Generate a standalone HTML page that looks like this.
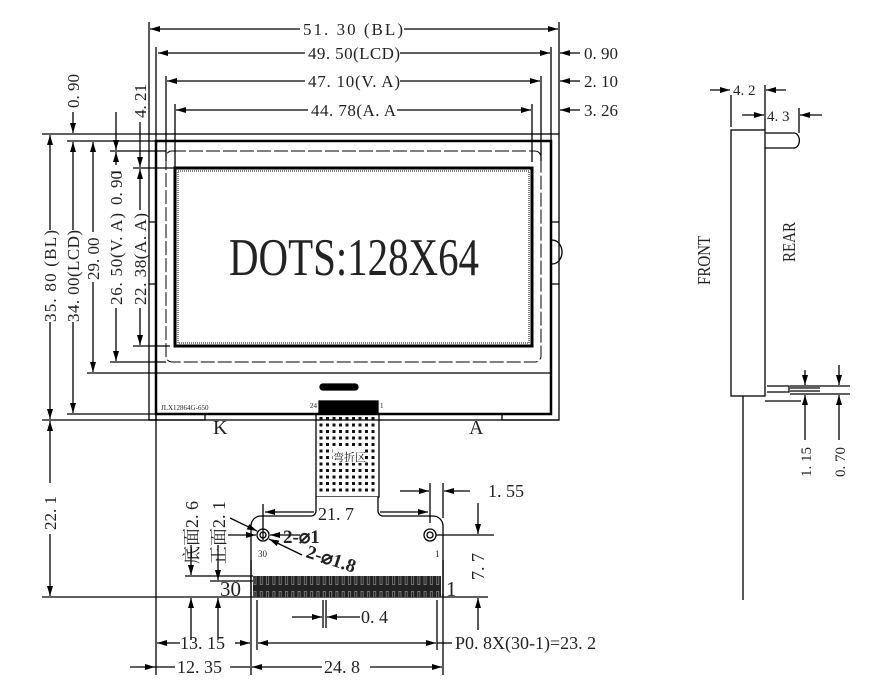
<!DOCTYPE html>
<html><head><meta charset="utf-8"><style>
html,body{margin:0;padding:0;background:#fff;}
svg{display:block;}
text{font-family:"Liberation Serif","Noto Serif CJK SC",serif;fill:#222;}
</style></head><body>
<svg width="874" height="684" viewBox="0 0 874 684" xmlns="http://www.w3.org/2000/svg">
<defs>
<marker id="a" viewBox="0 0 10 6" refX="10" refY="3" markerWidth="10" markerHeight="6" orient="auto-start-reverse" markerUnits="userSpaceOnUse"><path d="M0,0 L10,3 L0,6 z" fill="#000"/></marker>
<pattern id="dots" width="6.5" height="6.5" patternUnits="userSpaceOnUse"><rect x="1" y="1" width="3" height="3" fill="#111"/></pattern>
<pattern id="teeth" width="6.3" height="21" patternUnits="userSpaceOnUse"><rect width="6.3" height="21" fill="#222"/><rect x="1.5" y="3" width="3" height="15" fill="#777"/><rect x="2.5" y="4" width="1" height="13" fill="#111"/></pattern>
</defs>
<g stroke="#000" fill="none" stroke-width="1.3">
<rect x="149" y="134" width="410" height="286"/>
<rect x="156" y="141" width="395" height="273" stroke-width="2.5"/>
<rect x="166" y="151" width="375" height="211" rx="6" stroke-dasharray="14 3" stroke-width="1"/>
<rect x="175" y="168" width="357" height="178" stroke-width="3"/>
<rect x="178" y="171" width="351" height="172" stroke-width="1" stroke-dasharray="1 1"/>
<line x1="156" y1="373" x2="551" y2="373"/>
<path d="M551 222 h8 M551 284 h8"/>
<path d="M552 240 a10 12 0 0 1 0 24"/>
<path d="M149 222 h6 M149 284 h6"/>
<path d="M156 420 v-6 M205 414 v6 h-56" />
<path d="M502 414 v6 h57"/>
<rect x="320" y="384" width="38" height="6" rx="3" fill="#000"/>
<rect x="319" y="401" width="59" height="13" fill="#000"/>
<rect x="316" y="414" width="63" height="83"/>
<rect x="318" y="417" width="59" height="78" fill="url(#dots)" stroke="none"/>
<rect x="333" y="449" width="32" height="14" fill="#fff" stroke="none"/>
<path d="M316 497 v14 a5 5 0 0 1 -5 5 h-50 a10 10 0 0 0 -10 10 v71 h192 v-71 a10 10 0 0 0 -10 -10 h-50 a5 5 0 0 1 -5 -5 v-14" fill="#fff"/>
<rect x="253" y="576" width="188" height="21" fill="url(#teeth)" stroke="none"/>
<circle cx="263" cy="535" r="6"/><circle cx="263" cy="535" r="3"/>
<circle cx="430" cy="535" r="6"/><circle cx="430" cy="535" r="3"/>
<path d="M149 22 v112 M156 47 v94 M166 76 v85 M175 104 v64 M559 22 v112 M551 47 v94 M541 76 v85 M532 104 v58"/>
<line x1="150" y1="29" x2="300" y2="29" marker-start="url(#a)"/><line x1="404" y1="29" x2="558" y2="29" marker-end="url(#a)"/>
<line x1="158" y1="53" x2="305" y2="53" marker-start="url(#a)"/><line x1="400" y1="53" x2="550" y2="53" marker-end="url(#a)"/>
<line x1="167" y1="81" x2="305" y2="81" marker-start="url(#a)"/><line x1="400" y1="81" x2="540" y2="81" marker-end="url(#a)"/>
<line x1="176" y1="110" x2="308" y2="110" marker-start="url(#a)"/><line x1="397" y1="110" x2="531" y2="110" marker-end="url(#a)"/>
<line x1="580" y1="53" x2="560" y2="53" marker-end="url(#a)"/>
<line x1="580" y1="81" x2="560" y2="81" marker-end="url(#a)"/>
<line x1="580" y1="110" x2="560" y2="110" marker-end="url(#a)"/>
<path d="M42 134 h107 M67 141 h89 M110 151 h56 M133 168 h42 M133 346 h37 M110 362 h56 M87 373 h69 M67 414 h89 M42 420 h114"/>
<line x1="50" y1="135" x2="50" y2="230" marker-start="url(#a)"/><line x1="50" y1="322" x2="50" y2="419" marker-end="url(#a)"/>
<line x1="73" y1="142" x2="73" y2="230" marker-start="url(#a)"/><line x1="73" y1="322" x2="73" y2="413" marker-end="url(#a)"/>
<line x1="93" y1="142" x2="93" y2="232" marker-start="url(#a)"/><line x1="93" y1="282" x2="93" y2="372" marker-end="url(#a)"/>
<line x1="116" y1="152" x2="116" y2="165" marker-start="url(#a)"/><line x1="116" y1="308" x2="116" y2="361" marker-end="url(#a)"/>
<line x1="140" y1="169" x2="140" y2="210" marker-start="url(#a)"/><line x1="140" y1="308" x2="140" y2="345" marker-end="url(#a)"/>
<line x1="73" y1="112" x2="73" y2="133" marker-end="url(#a)"/>
<line x1="116" y1="112" x2="116" y2="150" marker-end="url(#a)"/>
<line x1="140" y1="122" x2="140" y2="167" marker-end="url(#a)"/>
<line x1="50" y1="421" x2="50" y2="483" marker-start="url(#a)"/><line x1="50" y1="534" x2="50" y2="596" marker-end="url(#a)"/>
<path d="M42 597 h209 M443 597 h45"/>
<path d="M156 414 v261 M251 560 v115 M443 560 v115 M257 600 v50 M437 600 v50 M323 600 v28 M326 600 v28"/>
<path d="M185 576 h68 M210 581 h43"/>
<line x1="191" y1="545" x2="191" y2="575" marker-end="url(#a)"/><line x1="191" y1="640" x2="191" y2="598" marker-end="url(#a)"/>
<line x1="218" y1="545" x2="218" y2="580" marker-end="url(#a)"/><line x1="218" y1="640" x2="218" y2="598" marker-end="url(#a)"/>
<line x1="157" y1="643" x2="180" y2="643" marker-start="url(#a)"/><line x1="235" y1="643" x2="250" y2="643" marker-end="url(#a)"/>
<line x1="258" y1="643" x2="436" y2="643" marker-start="url(#a)" marker-end="url(#a)"/><line x1="437" y1="643" x2="452" y2="643"/>
<line x1="130" y1="667" x2="155" y2="667" marker-end="url(#a)"/><line x1="175" y1="667" x2="155" y2="667"/><line x1="230" y1="667" x2="250" y2="667"/>
<line x1="252" y1="667" x2="322" y2="667" marker-start="url(#a)"/><line x1="370" y1="667" x2="442" y2="667" marker-end="url(#a)"/>
<line x1="292" y1="617" x2="322" y2="617" marker-end="url(#a)"/><line x1="360" y1="617" x2="327" y2="617" marker-end="url(#a)"/>
<line x1="263" y1="504" x2="263" y2="540"/>
<line x1="314" y1="512" x2="265" y2="512" marker-end="url(#a)"/><line x1="380" y1="512" x2="428" y2="512" marker-end="url(#a)"/>
<path d="M430 483 v40 M443 483 v35"/>
<line x1="400" y1="491" x2="429" y2="491" marker-end="url(#a)"/><line x1="470" y1="491" x2="444" y2="491" marker-end="url(#a)"/>
<path d="M436 535 h58"/>
<line x1="478" y1="503" x2="478" y2="534" marker-end="url(#a)"/><line x1="478" y1="630" x2="478" y2="598" marker-end="url(#a)"/>
<line x1="228" y1="535" x2="256" y2="535" marker-end="url(#a)"/><line x1="300" y1="535" x2="270" y2="535" marker-end="url(#a)"/>
<line x1="230" y1="518" x2="257" y2="531" marker-end="url(#a)"/>
<line x1="302" y1="555" x2="269" y2="539" marker-end="url(#a)"/>
<rect x="731" y="130" width="34" height="266"/>
<path d="M765 133 h29 a5 7 0 0 1 0 15 h-29"/>
<path d="M765 401 h36 M767 386 h22 v6 h-22 M790 388 h30 M790 391 h30 M790 394 h60 M790 386 h60"/>
<path d="M743 396 v204"/>
<path d="M731 95 v32 M765 85 v45 M799 108 v25"/>
<line x1="710" y1="90" x2="730" y2="90" marker-end="url(#a)"/><line x1="786" y1="90" x2="766" y2="90" marker-end="url(#a)"/>
<line x1="742" y1="115" x2="764" y2="115" marker-end="url(#a)"/><line x1="822" y1="115" x2="800" y2="115" marker-end="url(#a)"/>
<line x1="805" y1="370" x2="805" y2="385" marker-end="url(#a)"/><line x1="805" y1="440" x2="805" y2="395" marker-end="url(#a)"/>
<line x1="839" y1="365" x2="839" y2="385" marker-end="url(#a)"/><line x1="839" y1="440" x2="839" y2="395" marker-end="url(#a)"/>
</g>
<g font-size="17">
<text x="303" y="35" textLength="100">51. 30 (BL)</text>
<text x="308" y="59" textLength="92">49. 50(LCD)</text>
<text x="308" y="87" textLength="92">47. 10(V. A)</text>
<text x="311" y="116" textLength="85">44. 78(A. A</text>
<text x="584" y="59">0. 90</text>
<text x="584" y="87">2. 10</text>
<text x="584" y="116">3. 26</text>
</g>
<g font-size="17">
<text transform="translate(56,322) rotate(-90)" textLength="92">35. 80 (BL)</text>
<text transform="translate(79,322) rotate(-90)" textLength="92">34. 00(LCD)</text>
<text transform="translate(99,280) rotate(-90)">29. 00</text>
<text transform="translate(122,305) rotate(-90)" textLength="92">26. 50(V. A)</text>
<text transform="translate(122,205) rotate(-90)">0. 90</text>
<text transform="translate(146,305) rotate(-90)" textLength="92">22. 38(A. A)</text>
<text transform="translate(79,108) rotate(-90)">0. 90</text>
<text transform="translate(146,118) rotate(-90)">4. 21</text>
<text transform="translate(56,530) rotate(-90)">22. 1</text>
</g>
<line x1="111" y1="172" x2="121" y2="172" stroke="#000"/>
<text transform="translate(229,275) scale(1,1.25)" font-size="42" textLength="250" lengthAdjust="spacingAndGlyphs">DOTS:128X64</text>
<text x="161" y="410" font-size="7">JLX12864G-650</text>
<text x="310" y="408" font-size="7">24</text><text x="380" y="408" font-size="7">1</text>
<text x="213" y="434" font-size="20">K</text>
<text x="469" y="434" font-size="20">A</text>
<text x="333" y="461" font-size="11" font-family="Noto Sans CJK SC,sans-serif" fill="#444">弯折区</text>
<text x="258" y="557" font-size="9">30</text><text x="435" y="557" font-size="9">1</text>
<g font-size="18">
<text transform="translate(198,564) rotate(-90)">底面2. 6</text>
<text transform="translate(225,564) rotate(-90)">正面2. 1</text>
<text x="318" y="520">21. 7</text>
<text x="488" y="497">1. 55</text>
<text transform="translate(484,580) rotate(-90)">7. 7</text>
<text x="220" y="596" font-size="21">30</text>
<text x="446" y="596" font-size="21">1</text>
<text x="361" y="623">0. 4</text>
<text x="180" y="649">13. 15</text>
<text x="455" y="649">P0. 8X(30-1)=23. 2</text>
<text x="177" y="673">12. 35</text>
<text x="324" y="673">24. 8</text>
</g>
<text x="283" y="543" font-size="19" font-family="Liberation Sans,sans-serif" font-weight="bold">2-⌀1</text>
<text transform="translate(305,557) rotate(18)" font-size="19" font-family="Liberation Sans,sans-serif" font-weight="bold">2-⌀1.8</text>
<g font-size="15">
<text x="733" y="95">4. 2</text>
<text x="767" y="121">4. 3</text>
<text transform="translate(710,285) rotate(-90) scale(1,1.2)">FRONT</text>
<text transform="translate(795,262) rotate(-90) scale(1,1.2)">REAR</text>
<text transform="translate(811,477) rotate(-90)">1. 15</text>
<text transform="translate(845,477) rotate(-90)">0. 70</text>
</g>
</svg>
</body></html>
